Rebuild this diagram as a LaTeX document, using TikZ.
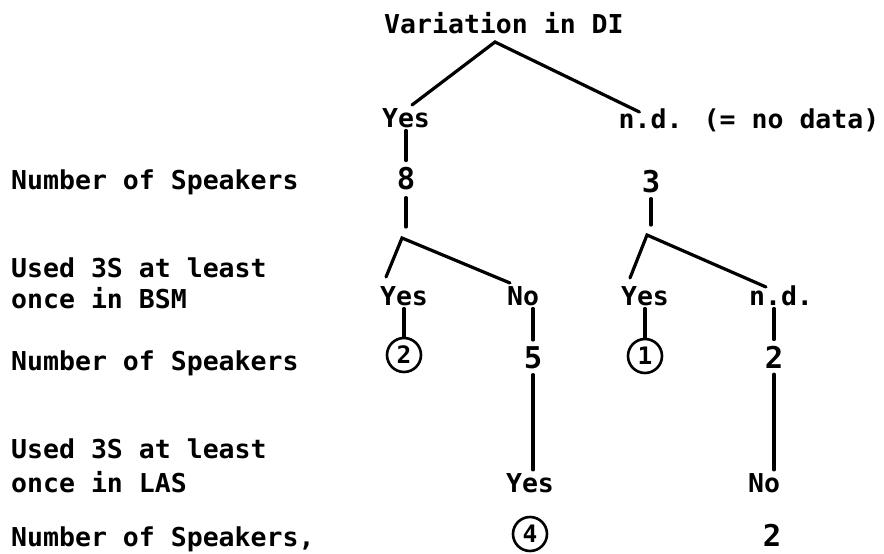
\documentclass[tikz,border=0pt]{standalone}
\usepackage{fontspec}
\newfontfamily\tw{DejaVu Sans Mono}[FakeStretch=1.02]
\usetikzlibrary{calc}
\begin{document}
\begin{tikzpicture}[x=1pt,y=1pt,
  txt/.style={font=\tw\bfseries\fontsize{26}{30}\selectfont, inner xsep=1pt, inner ysep=3pt, anchor=base},
  num/.style={txt, font=\tw\bfseries\fontsize{30}{34}\selectfont, inner ysep=6pt},
  lab/.style={txt, anchor=base west},
  circ/.style={draw, circle, line width=2.6pt, inner sep=0pt, minimum size=34pt, font=\tw\bfseries\fontsize{24}{28}\selectfont},
  ln/.style={line width=3.2pt, line cap=round}
]
\useasboundingbox (0,0) rectangle (884,-554);
\fill[white] (0,0) rectangle (884,-554);

% left labels
\node[lab] (lab1) at (10,-189) {Number of Speakers};
\node[lab] (lab2a) at (10,-277) {Used 3S at least};
\node[lab] (lab2b) at (10,-308) {once in BSM};
\node[lab] (lab3) at (10,-370) {Number of Speakers};
\node[lab] (lab4a) at (10,-458) {Used 3S at least};
\node[lab] (lab4b) at (10,-492) {once in LAS};
\node[lab, inner ysep=1pt] (lab5) at (10,-546) {Number of Speakers,};

% tree
\node[lab] (title) at (383,-34) {Variation in DI};
\node[txt] (yes1) at (406,-127) {Yes};
\node[txt] (nd1) at (749,-128) {n.d. (= no data)};
\node[num] (n8) at (406,-189) {8};
\node[num] (n3) at (651,-192) {3};
\node[txt] (yes2) at (404,-305) {Yes};
\node[txt] (no2) at (523,-305) {No};
\node[txt] (yes3) at (645,-305) {Yes};
\node[txt] (nd3) at (781,-305) {n.d.};
\node[circ] (c2) at (404,-355) {2};
\node[num] (n5) at (533,-368) {5};
\node[circ] (c1) at (645,-356) {1};
\node[num] (n2a) at (774,-368) {2};
\node[txt] (yes4) at (530,-492) {Yes};
\node[txt] (no4) at (764,-492) {No};
\node[circ] (c4) at (530,-534) {4};
\node[num, inner ysep=1pt] (n2b) at (772,-546) {2};

\coordinate (ap0) at (495,-42);
\draw[ln] ($(yes1.base)+(6,22)$) -- (ap0) -- ($(nd1.base west)+(22,16)$);
\draw[ln] (yes1.south) -- (n8.north);
\coordinate (e8) at (406,-227);
\draw[ln, shorten <=2pt] (n8.south) -- (e8);
\coordinate (e3) at (651,-225);
\draw[ln] (n3.south) -- (e3);
\coordinate (ap1) at (402,-238);
\draw[ln] ($(yes2.base)+(-18,28)$) -- (ap1) -- ($(no2.base)+(-13,22)$);
\coordinate (ap2) at (647,-235);
\draw[ln] ($(yes3.base)+(-15,27)$) -- (ap2) -- ($(nd3.base)+(-15,18)$);

\draw[ln] (yes2.south) -- (c2.north);
\draw[ln] (no2.south -| n5) -- (n5.north);
\draw[ln] (yes3.south) -- (c1.north);
\draw[ln] (nd3.south -| n2a) -- (n2a.north);
\draw[ln] (n5.south) -- (n5.south |- yes4.north);
\draw[ln] (n2a.south) -- (n2a.south |- no4.north);
\end{tikzpicture}
\end{document}
